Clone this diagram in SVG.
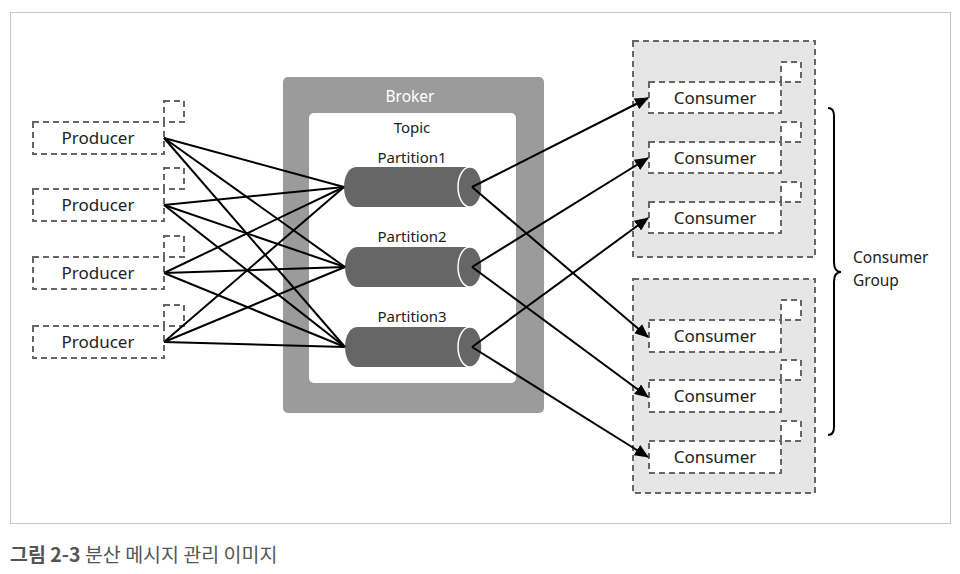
<svg xmlns="http://www.w3.org/2000/svg" width="960" height="574" viewBox="0 0 960 574">
<style>
.t{font-family:"Noto Sans","Open Sans",sans-serif;fill:#222;}
.dash{fill:#fff;stroke:#666;stroke-width:2;stroke-dasharray:6 4;}
.grp{fill:#e6e6e6;stroke:#666;stroke-width:2;stroke-dasharray:6 4;}
.ln{stroke:#000;stroke-width:2;fill:none;}
.cyl{fill:#666;}
.cap{fill:#666;stroke:#fff;stroke-width:1.5;}
</style>
<defs>
<marker id="ah" markerWidth="14" markerHeight="12" refX="13" refY="6" orient="auto" markerUnits="userSpaceOnUse" viewBox="0 0 14 12">
<path d="M0,0 L14,6 L0,12 Z" fill="#000"/>
</marker>
</defs>
<rect x="0" y="0" width="960" height="574" fill="#fff"/>
<rect x="10.5" y="12.5" width="940" height="511" fill="#fff" stroke="#c8c8c8" stroke-width="1"/>

<g id="broker">
<rect x="283" y="77" width="261" height="336" rx="5" fill="#9b9b9b"/>
<text class="t" x="410" y="102" font-size="15.5" text-anchor="middle" style="fill:#fff">Broker</text>
</g>
<g id="topic">
<rect x="309" y="113" width="207" height="270" rx="5" fill="#fff"/>
<text class="t" x="412" y="133" font-size="15" text-anchor="middle">Topic</text>
</g>

<g id="consumer-group-1"><rect class="grp" x="633" y="41" width="182" height="216"/></g>
<g id="consumer-group-2"><rect class="grp" x="633" y="279" width="182" height="214"/></g>

<g id="producer1"><rect class="dash" x="164" y="101" width="20" height="21"/><rect class="dash" x="33" y="122" width="131" height="32"/><text class="t" x="98" y="144" font-size="17" text-anchor="middle">Producer</text></g>
<g id="producer2"><rect class="dash" x="164" y="168" width="20" height="21"/><rect class="dash" x="33" y="189" width="131" height="32"/><text class="t" x="98" y="211" font-size="17" text-anchor="middle">Producer</text></g>
<g id="producer3"><rect class="dash" x="164" y="236" width="20" height="21"/><rect class="dash" x="33" y="257" width="131" height="32"/><text class="t" x="98" y="279" font-size="17" text-anchor="middle">Producer</text></g>
<g id="producer4"><rect class="dash" x="164" y="305" width="20" height="21"/><rect class="dash" x="33" y="326" width="131" height="32"/><text class="t" x="98" y="348" font-size="17" text-anchor="middle">Producer</text></g>

<g id="partition1">
<text class="t" x="412" y="163" font-size="15" text-anchor="middle">Partition1</text>
<path class="cyl" d="M356,167 L470,167 A12,20 0 0 1 470,207 L356,207 A12,20 0 0 1 356,167 Z"/>
<ellipse class="cap" cx="470" cy="187" rx="12" ry="20"/>
</g>
<g id="partition2">
<text class="t" x="412" y="242" font-size="15" text-anchor="middle">Partition2</text>
<path class="cyl" d="M357,247 L470,247 A12,20 0 0 1 470,287 L357,287 A12,20 0 0 1 357,247 Z"/>
<ellipse class="cap" cx="470" cy="267" rx="12" ry="20"/>
</g>
<g id="partition3">
<text class="t" x="412" y="322" font-size="15" text-anchor="middle">Partition3</text>
<path class="cyl" d="M357,327 L470,327 A12,20 0 0 1 470,367 L357,367 A12,20 0 0 1 357,327 Z"/>
<ellipse class="cap" cx="470" cy="347" rx="12" ry="20"/>
</g>

<g id="consumer1"><rect class="dash" x="781" y="62" width="20" height="20"/><rect class="dash" x="649" y="82" width="132" height="31"/><text class="t" x="715" y="104" font-size="17" text-anchor="middle">Consumer</text></g>
<g id="consumer2"><rect class="dash" x="781" y="122" width="20" height="20"/><rect class="dash" x="649" y="142" width="132" height="31"/><text class="t" x="715" y="164" font-size="17" text-anchor="middle">Consumer</text></g>
<g id="consumer3"><rect class="dash" x="781" y="182" width="20" height="20"/><rect class="dash" x="649" y="202" width="132" height="31"/><text class="t" x="715" y="224" font-size="17" text-anchor="middle">Consumer</text></g>
<g id="consumer4"><rect class="dash" x="781" y="300" width="20" height="20"/><rect class="dash" x="649" y="320" width="132" height="32"/><text class="t" x="715" y="342" font-size="17" text-anchor="middle">Consumer</text></g>
<g id="consumer5"><rect class="dash" x="781" y="360" width="20" height="20"/><rect class="dash" x="649" y="380" width="132" height="32"/><text class="t" x="715" y="402" font-size="17" text-anchor="middle">Consumer</text></g>
<g id="consumer6"><rect class="dash" x="781" y="421" width="20" height="20"/><rect class="dash" x="649" y="441" width="132" height="32"/><text class="t" x="715" y="463" font-size="17" text-anchor="middle">Consumer</text></g>

<g id="connectors">
<line class="ln" x1="164" y1="138" x2="344" y2="187"/>
<line class="ln" x1="164" y1="138" x2="345" y2="267"/>
<line class="ln" x1="164" y1="138" x2="345" y2="347"/>
<line class="ln" x1="164" y1="205" x2="344" y2="187"/>
<line class="ln" x1="164" y1="205" x2="345" y2="267"/>
<line class="ln" x1="164" y1="205" x2="345" y2="347"/>
<line class="ln" x1="164" y1="273" x2="344" y2="187"/>
<line class="ln" x1="164" y1="273" x2="345" y2="267"/>
<line class="ln" x1="164" y1="273" x2="345" y2="347"/>
<line class="ln" x1="164" y1="342" x2="344" y2="187"/>
<line class="ln" x1="164" y1="342" x2="345" y2="267"/>
<line class="ln" x1="164" y1="342" x2="345" y2="347"/>
<line class="ln" x1="472" y1="187" x2="648" y2="98" marker-end="url(#ah)"/>
<line class="ln" x1="472" y1="187" x2="648" y2="337" marker-end="url(#ah)"/>
<line class="ln" x1="472" y1="267" x2="648" y2="158" marker-end="url(#ah)"/>
<line class="ln" x1="472" y1="267" x2="648" y2="397" marker-end="url(#ah)"/>
<line class="ln" x1="472" y1="347" x2="648" y2="218" marker-end="url(#ah)"/>
<line class="ln" x1="472" y1="347" x2="648" y2="457" marker-end="url(#ah)"/>
</g>

<g id="brace">
<path class="ln" d="M828,108 Q834,108 834,116 L834,262 Q834,272 841,272 Q834,272 834,282 L834,427 Q834,435 828,435"/>
<text class="t" x="853" y="263" font-size="15.5">Consumer</text>
<text class="t" x="853" y="286" font-size="15.5">Group</text>
</g>

<text x="10" y="562" font-size="19.5" style="font-family:'Noto Sans CJK KR','Noto Sans',sans-serif;fill:#555"><tspan font-weight="bold">그림 2-3</tspan> 분산 메시지 관리 이미지</text>
</svg>
